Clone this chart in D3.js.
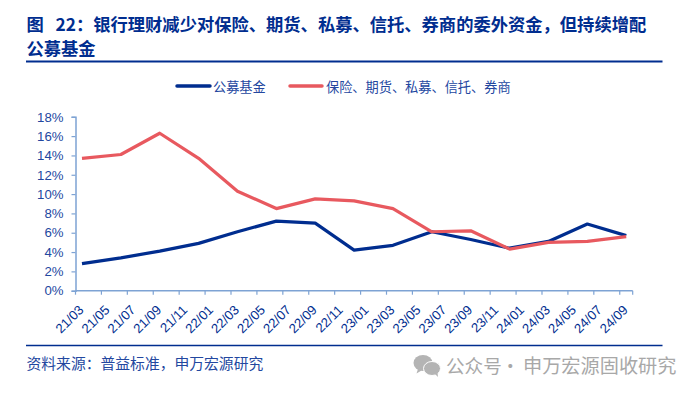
<!DOCTYPE html>
<html>
<head>
<meta charset="utf-8">
<script src="https://cdnjs.cloudflare.com/ajax/libs/d3/7.8.5/d3.min.js"></script>
<style>
html,body{margin:0;padding:0;background:#fff;}
svg{display:block;}
text{font-family:"Noto Sans CJK SC","Noto Sans",sans-serif;}
.num{font-family:"Liberation Sans",Arial,sans-serif;}
</style>
</head>
<body>
<div id="chart"></div>
<script>
/* monthly date axis, only every 2nd month labelled, data is quarterly */
var months = [];
[21,22,23,24].forEach(function(y){
    d3.range(1,13).forEach(function(m){
        var s = y+'/'+(m<10?'0':'')+m;
        if(s>='21/03'&&s<='24/09')months.push(s);
    });
});
var tickLabels = months.filter(function(d,i){ return i%2===0; });
var quarters = ['21/03','21/06','21/09','21/12','22/03','22/06','22/09','22/12','23/03','23/06','23/09','23/12','24/03','24/06','24/09'];
var fundValues  = [2.8,3.4,4.1,4.9,6.1,7.2,7.0,4.2,4.7,6.1,5.3,4.4,5.1,6.9,5.7];
var otherValues = [13.7,14.1,16.3,13.7,10.3,8.5,9.5,9.3,8.5,6.1,6.2,4.3,5.0,5.1,5.6];
var yTicks = [0,2,4,6,8,10,12,14,16,18];
var seriesNames = ['公募基金','保险、期货、私募、信托、券商'];
var titleLines = ['图\u00a0\u00a0\u00a022：银行理财减少对保险、期货、私募、信托、券商的委外资金，但持续增配','公募基金'];
var sourceText = '资料来源：普益标准，申万宏源研究';
var watermark = ['公众号','·','申万宏源固收研究'];

var NAVY='#002d8f', RED='#e8595f', AXIS='#7ea3d4', LABEL='#23479f';
var w=700, h=394;
var svg = d3.select('#chart').append('svg').attr('width',w).attr('height',h);

var x = d3.scaleBand().domain(months).range([75.5,632.7]);
var y = d3.scaleLinear().domain([0,18]).range([290.7,116.8]);

// header
svg.selectAll('text.title').data(titleLines).join('text').attr('class','title')
    .attr('x',26.5).attr('y',function(d,i){ return 31+i*24; })
    .attr('fill',NAVY).attr('font-size','17.3px').attr('font-weight',700)
    .text(function(d){ return d; });
svg.append('line').attr('x1',26).attr('x2',662.5).attr('y1',61.5).attr('y2',61.5).attr('stroke',NAVY).attr('stroke-width',2);
svg.append('line').attr('x1',26).attr('x2',662.5).attr('y1',345.5).attr('y2',345.5).attr('stroke',NAVY).attr('stroke-width',1.5);

// legend
[[177,210,0],[290,322,1]].forEach(function(l){
    svg.append('line').attr('x1',l[0]).attr('x2',l[1]).attr('y1',86).attr('y2',86)
        .attr('stroke',l[2]?RED:NAVY).attr('stroke-width',3.5).attr('stroke-linecap','round');
});
svg.append('text').attr('x',213).attr('y',92).attr('fill',LABEL).attr('font-size','13.2px').text(seriesNames[0]);
svg.append('text').attr('x',326).attr('y',92).attr('fill',LABEL).attr('font-size','13.2px').text(seriesNames[1]);

// y axis
var yAxis = d3.axisLeft(y).tickValues(yTicks).tickSize(4).tickPadding(8).tickFormat(function(d){ return d+'%'; });
var gy = svg.append('g').attr('transform','translate(75.5,0)').call(yAxis);
gy.select('.domain').attr('stroke',AXIS).attr('stroke-width',1.5);
gy.selectAll('.tick line').attr('stroke',AXIS).attr('stroke-width',1.2);
gy.selectAll('.tick text').attr('class','num').attr('fill',LABEL).attr('font-size','13.2px');

// x axis, ticks sit on the band edges of every 2nd month
var gx = svg.append('g').attr('transform','translate(0,290.7)');
gx.append('line').attr('x1',x.range()[0]).attr('x2',x.range()[1]).attr('stroke',AXIS).attr('stroke-width',1.5);
gx.selectAll('line.tick').data(tickLabels.concat(['end'])).join('line').attr('class','tick')
    .attr('x1',function(d){ return d==='end'?x.range()[1]:x(d); })
    .attr('x2',function(d){ return d==='end'?x.range()[1]:x(d); })
    .attr('y1',0).attr('y2',4).attr('stroke',AXIS).attr('stroke-width',1.2);
gx.selectAll('text').data(tickLabels).join('text').attr('class','num')
    .attr('text-anchor','end').attr('fill',NAVY).attr('font-size','13.2px')
    .attr('transform',function(d){ return 'translate('+(x(d)+x.bandwidth()-4)+',20) rotate(-45)'; })
    .text(function(d){ return d; });

// lines
var line = d3.line().x(function(d){ return x(d.m)+x.bandwidth()/2; }).y(function(d){ return y(d.v); });
function rows(vals){ return vals.map(function(v,i){ return {m:quarters[i],v:v}; }); }
[[fundValues,NAVY],[otherValues,RED]].forEach(function(s){
    svg.append('path').datum(rows(s[0])).attr('d',line).attr('fill','none')
        .attr('stroke',s[1]).attr('stroke-width',3.2).attr('stroke-linejoin','round');
});

// footer
svg.append('text').attr('x',26.5).attr('y',369).attr('fill',LABEL).attr('font-size','14.8px').text(sourceText);

// wechat watermark
var wm = svg.append('g').attr('fill','#b4b4b4');
wm.append('ellipse').attr('cx',423).attr('cy',363).attr('rx',9.5).attr('ry',8);
wm.append('path').attr('d','M418 369l-1.5 4.5l5-3z');
wm.append('ellipse').attr('cx',432).attr('cy',368.5).attr('rx',8.5).attr('ry',7).attr('stroke','#fff').attr('stroke-width',1);
wm.append('path').attr('d','M435 374l3 3l-.5-4.5z');
[[446,18.6],[501,18.6],[523,19.2]].forEach(function(p,i){
    svg.append('text').attr('x',p[0]).attr('y',372.5).attr('fill','#a8a8a8').attr('font-size',p[1]+'px').text(watermark[i]);
});
</script>
</body>
</html>
